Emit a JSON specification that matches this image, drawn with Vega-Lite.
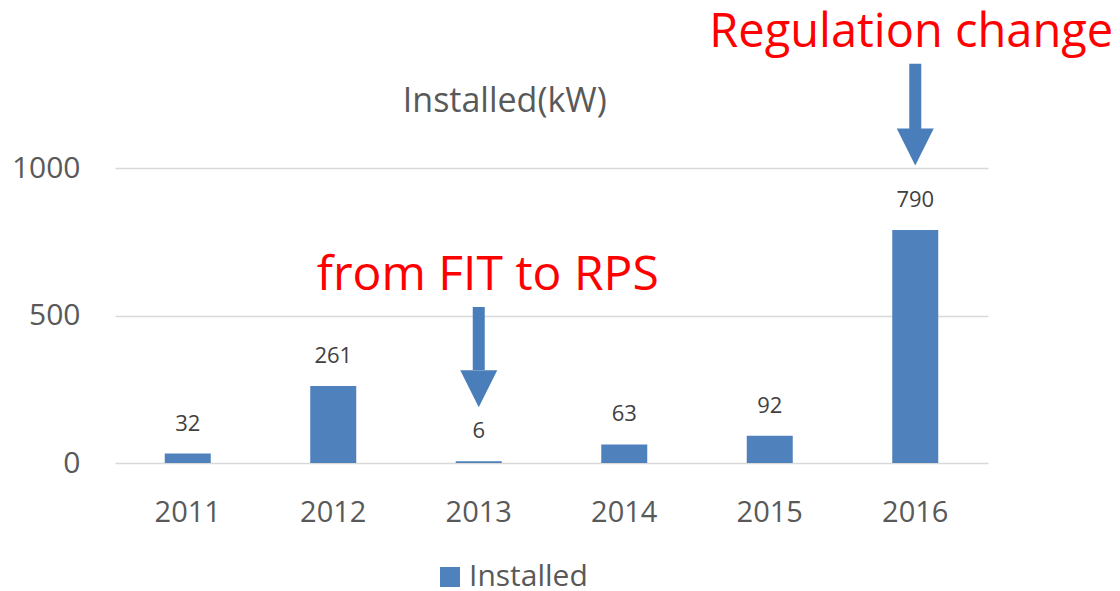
{
  "$schema": "https://vega.github.io/schema/vega-lite/v6.json",
  "autosize": "none",
  "width": 873,
  "height": 295,
  "padding": {"left": 115, "top": 168, "right": 132, "bottom": 128},
  "background": "white",
  "config": {"view": {"stroke": null}, "font": "Open Sans"},
  "datasets": {
    "bars": [
      {"year": "2011", "kw": 32, "series": "Installed"},
      {"year": "2012", "kw": 261, "series": "Installed"},
      {"year": "2013", "kw": 6, "series": "Installed"},
      {"year": "2014", "kw": 63, "series": "Installed"},
      {"year": "2015", "kw": 92, "series": "Installed"},
      {"year": "2016", "kw": 790, "series": "Installed"}
    ],
    "arrows": [
      {"year": "2013", "top": 529, "base": 315, "head": 252},
      {"year": "2016", "top": 1353, "base": 1132, "head": 1071}
    ],
    "notes": [
      {"year": "2013", "y": 586, "note": "from FIT to RPS"},
      {"year": "2016", "y": 1410, "note": "Regulation change"}
    ],
    "heading": [
      {"year": "2013", "y": 1190, "note": "Installed(kW)"}
    ]
  },
  "layer": [
    {
      "data": {"name": "bars"},
      "mark": {"type": "bar", "width": 46},
      "encoding": {
        "x": {"field": "year", "type": "ordinal", "scale": {"paddingInner": 0, "paddingOuter": 0},
          "axis": {"title": null, "ticks": false, "domain": false, "labelFontSize": 29, "labelColor": "#595959", "labelPadding": 35, "labelAngle": 0, "labelFont": "Open Sans"}},
        "y": {"field": "kw", "type": "quantitative", "scale": {"domain": [0, 1000], "nice": false},
          "axis": {"title": null, "ticks": false, "domain": false, "values": [0, 500, 1000], "format": "d", "grid": true, "gridColor": "#d9d9d9", "gridWidth": 1.5, "labelFontSize": 30, "labelColor": "#595959", "labelPadding": 35, "labelFont": "Open Sans"}},
        "color": {"field": "series", "type": "nominal", "scale": {"range": ["#4f81bd"]},
          "legend": {"title": null, "orient": "none", "legendX": 320, "legendY": 394, "symbolType": "square", "symbolSize": 400, "labelFontSize": 30, "labelColor": "#595959", "labelFont": "Open Sans", "symbolStrokeWidth": 0, "labelLimit": 300}}
      }
    },
    {
      "data": {"name": "bars"},
      "mark": {"type": "text", "fontSize": 22, "color": "#404040", "baseline": "middle", "dy": -30, "font": "Open Sans"},
      "encoding": {
        "x": {"field": "year", "type": "ordinal"},
        "y": {"field": "kw", "type": "quantitative"},
        "text": {"field": "kw", "type": "quantitative"}
      }
    },
    {
      "data": {"name": "arrows"},
      "mark": {"type": "rule", "strokeWidth": 12, "color": "#4a7ebb"},
      "encoding": {
        "x": {"field": "year", "type": "ordinal"},
        "y": {"field": "top", "type": "quantitative"},
        "y2": {"field": "base"}
      }
    },
    {
      "data": {"name": "arrows"},
      "mark": {"type": "point", "shape": "M-1,-1L1,-1L0,1Z", "size": 1369, "filled": true, "opacity": 1, "color": "#4a7ebb", "strokeWidth": 0},
      "encoding": {
        "x": {"field": "year", "type": "ordinal"},
        "y": {"field": "head", "type": "quantitative"}
      }
    },
    {
      "data": {"name": "notes"},
      "transform": [{"filter": "datum.year == '2013'"}],
      "mark": {"type": "text", "fontSize": 48, "color": "#ff0000", "baseline": "alphabetic", "font": "Open Sans", "dx": 9},
      "encoding": {
        "x": {"field": "year", "type": "ordinal"},
        "y": {"field": "y", "type": "quantitative"},
        "text": {"field": "note"}
      }
    },
    {
      "data": {"name": "notes"},
      "transform": [{"filter": "datum.year == '2016'"}],
      "mark": {"type": "text", "fontSize": 47, "color": "#ff0000", "baseline": "alphabetic", "font": "Open Sans", "dx": -4},
      "encoding": {
        "x": {"field": "year", "type": "ordinal"},
        "y": {"field": "y", "type": "quantitative"},
        "text": {"field": "note"}
      }
    },
    {
      "data": {"name": "heading"},
      "mark": {"type": "text", "fontSize": 34, "color": "#595959", "baseline": "alphabetic", "font": "Open Sans", "dx": 26},
      "encoding": {
        "x": {"field": "year", "type": "ordinal"},
        "y": {"field": "y", "type": "quantitative"},
        "text": {"field": "note"}
      }
    }
  ]
}
